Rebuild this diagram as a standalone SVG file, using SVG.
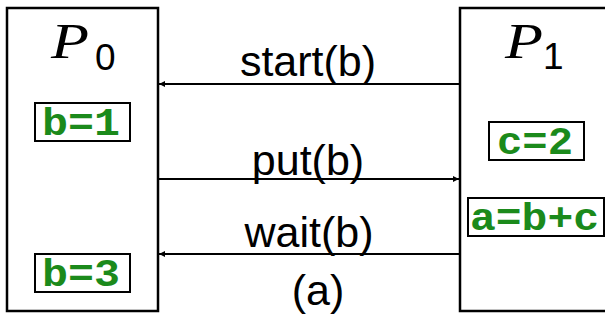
<svg xmlns="http://www.w3.org/2000/svg" width="605" height="321" viewBox="0 0 605 321">
  <style>
    .proc { fill: #fff; stroke: #000; stroke-width: 2.5; }
    .var { fill: #fff; stroke: #000; stroke-width: 2; }
    .code { font-family: "Liberation Mono", "Courier New", monospace; font-weight: bold; font-size: 38px; fill: #1b8a1b; }
    .msg { font-family: "Liberation Sans", Arial, sans-serif; font-size: 43px; fill: #000; text-anchor: middle; }
    .pname { font-family: "Liberation Serif", "Times New Roman", serif; font-style: italic; font-size: 50px; fill: #000; }
    .sub { font-family: "Liberation Sans", Arial, sans-serif; font-size: 37px; fill: #000; }
    .link { stroke: #000; stroke-width: 2; fill: none; }
  </style>
  <defs>
    <marker id="head" viewBox="0 0 10 10" refX="10" refY="5" markerWidth="8" markerHeight="6" markerUnits="userSpaceOnUse" orient="auto">
      <path d="M0,0 L10,5 L0,10 z" fill="#000"/>
    </marker>
  </defs>
  <rect width="605" height="321" fill="#fff"/>

  <!-- process P0 -->
  <g id="p0">
    <rect class="proc" x="7" y="8" width="151" height="303"/>
    <text class="pname" x="51" y="58" textLength="38" lengthAdjust="spacingAndGlyphs">P</text>
    <text class="sub" x="95" y="70">0</text>
    <g id="p0-b1">
      <rect class="var" x="35" y="103" width="95" height="38"/>
      <text class="code" x="42" y="135" textLength="78" lengthAdjust="spacingAndGlyphs">b=1</text>
    </g>
    <g id="p0-b3">
      <rect class="var" x="35" y="254" width="95" height="38"/>
      <text class="code" x="42" y="286" textLength="78" lengthAdjust="spacingAndGlyphs">b=3</text>
    </g>
  </g>

  <!-- process P1 -->
  <g id="p1">
    <rect class="proc" x="460" y="8" width="160" height="303"/>
    <text class="pname" x="505" y="58" textLength="38" lengthAdjust="spacingAndGlyphs">P</text>
    <text class="sub" x="543" y="69">1</text>
    <g id="p1-c2">
      <rect class="var" x="489" y="122" width="95" height="38"/>
      <text class="code" x="497" y="154" textLength="76" lengthAdjust="spacingAndGlyphs">c=2</text>
    </g>
    <g id="p1-abc">
      <rect class="var" x="468" y="198" width="136" height="38"/>
      <text class="code" x="470" y="230" textLength="129" lengthAdjust="spacingAndGlyphs">a=b+c</text>
    </g>
  </g>

  <!-- messages between the processes -->
  <g id="connectors">
    <line class="link" x1="460" y1="84" x2="159" y2="84" marker-end="url(#head)"/>
    <line class="link" x1="158" y1="179" x2="459" y2="179" marker-end="url(#head)"/>
    <line class="link" x1="460" y1="254" x2="159" y2="254" marker-end="url(#head)"/>
    <text class="msg" x="308" y="76">start(b)</text>
    <text class="msg" x="308" y="175">put(b)</text>
    <text class="msg" x="309" y="247">wait(b)</text>
    <text class="msg" x="318" y="305">(a)</text>
  </g>
</svg>
